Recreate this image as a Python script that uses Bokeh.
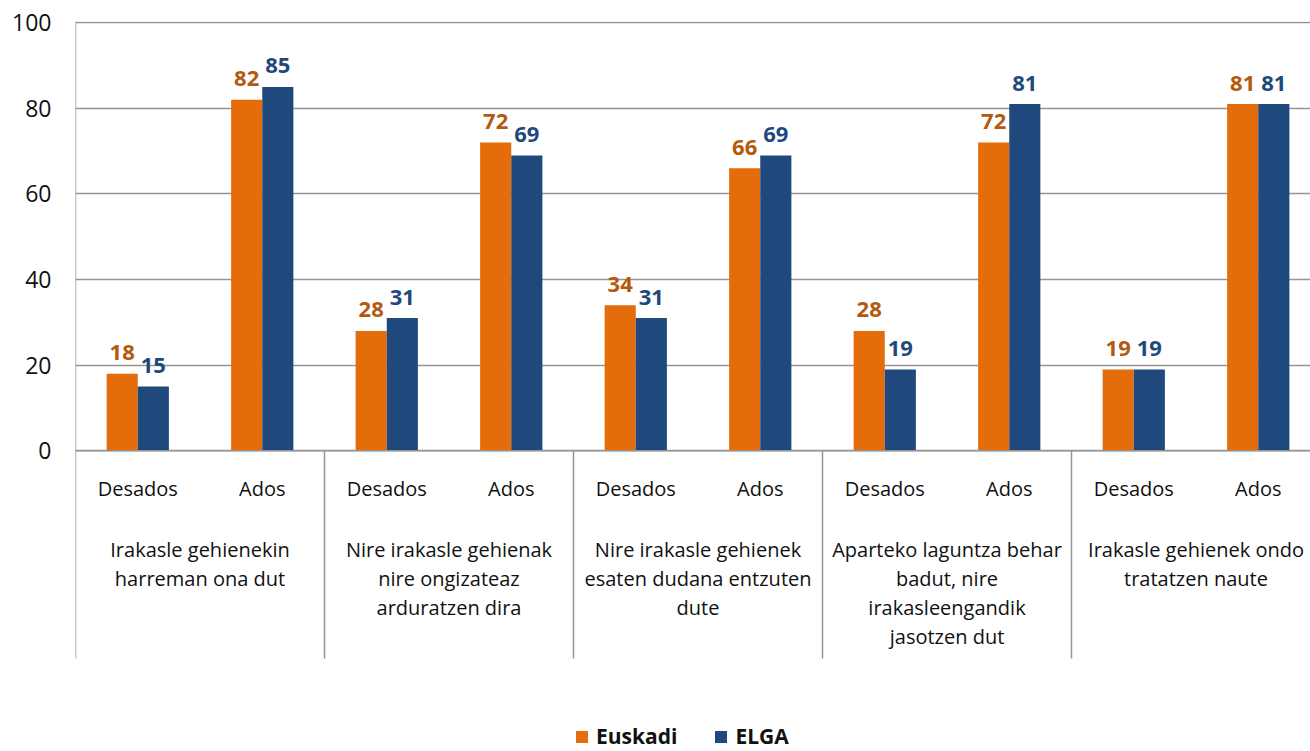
import numpy as np
from bokeh.plotting import figure
from bokeh.models import Range1d, FixedTicker, Legend, LegendItem
from bokeh.core.properties import value
from bokeh.embed import file_html
from bokeh.resources import INLINE

# ---- data ----
groups = [
    "Irakasle gehienekin\nharreman ona dut",
    "Nire irakasle gehienak\nnire ongizateaz\narduratzen dira",
    "Nire irakasle gehienek\nesaten dudana entzuten\ndute",
    "Aparteko laguntza behar\nbadut, nire\nirakasleengandik\njasotzen dut",
    "Irakasle gehienek ondo\ntratatzen naute",
]
subcats = ["Desados", "Ados"]
euskadi = [18, 82, 28, 72, 34, 66, 28, 72, 19, 81]
elga = [15, 85, 31, 69, 31, 69, 19, 81, 19, 81]
yticks = [0, 20, 40, 60, 80, 100]

FONT = "Open Sans"
ORANGE = "#E46C0A"
ORANGE_TXT = "#B35A0C"
BLUE = "#1F497D"
GRID = "#959595"

PX_PER_UNIT = 4.28
Y_END = 100.3
W, H = 1310, 751
TOP = 21
LEFT = 75
frame_h = H - TOP
Y_START = Y_END - frame_h / PX_PER_UNIT
ZERO_PX = TOP + Y_END * PX_PER_UNIT  # page y of value 0
SLOT_PX = 124.5
X_END = (W - LEFT) / SLOT_PX

n = len(euskadi)
xc = np.arange(n) + 0.5
bw = 0.25

p = figure(width=W, height=H, output_backend="svg", toolbar_location=None,
           x_range=Range1d(0, X_END), y_range=Range1d(Y_START, Y_END),
           min_border_left=LEFT, min_border_right=0, min_border_top=TOP, min_border_bottom=0)
p.outline_line_color = None
p.background_fill_color = "white"
p.xaxis.visible = False
p.xgrid.visible = False

p.yaxis.ticker = FixedTicker(ticks=yticks)
p.yaxis.axis_line_color = None
p.yaxis.major_tick_line_color = None
p.yaxis.minor_tick_line_color = None
p.yaxis.major_tick_out = 0
p.yaxis.major_tick_in = 0
p.yaxis.major_label_standoff = 24
p.yaxis.major_label_text_font = FONT
p.yaxis.major_label_text_font_size = "23px"
p.yaxis.major_label_text_color = "#111111"
p.ygrid.grid_line_color = GRID
p.ygrid.grid_line_width = 1.5

r1 = p.vbar(x=xc - bw / 2, top=euskadi, width=bw, bottom=0, fill_color=ORANGE, line_color=None)
r2 = p.vbar(x=xc + bw / 2, top=elga, width=bw, bottom=0, fill_color=BLUE, line_color=None)

# value labels
p.text(x=xc - bw / 2, y=euskadi, text=[str(v) for v in euskadi], text_align="center",
       text_baseline="alphabetic", y_offset=-21, text_font=value(FONT), text_font_style="bold",
       text_font_size="22px", text_color=ORANGE_TXT)
p.text(x=xc + bw / 2, y=elga, text=[str(v) for v in elga], text_align="center",
       text_baseline="alphabetic", y_offset=-21, text_font=value(FONT), text_font_style="bold",
       text_font_size="22px", text_color=BLUE)

# axis baseline
p.segment(x0=[0], y0=[0], x1=[X_END], y1=[0], line_color=GRID, line_width=1.5)

# separators
sep_bottom = -(658 - ZERO_PX) / PX_PER_UNIT
ng = len(groups)
sep_x = [2 * g for g in range(ng)]
sep_top = [Y_END if g == 0 else 0 for g in range(ng)]
p.segment(x0=sep_x, y0=sep_top, x1=sep_x, y1=[sep_bottom] * ng, line_color=GRID, line_width=1.5)

# sub category labels
sub_labels = [subcats[i % 2] for i in range(n)]
p.text(x=xc, y=[-(488 - ZERO_PX) / PX_PER_UNIT] * n, text=sub_labels, text_align="center",
       text_baseline="middle", text_font=value(FONT), text_font_size="20px", text_color="#111111")

# group labels (line by line)
gx, gy, gt = [], [], []
for g, lab in enumerate(groups):
    for k, line in enumerate(lab.split("\n")):
        gx.append(2 * g + 1)
        gy.append(-(549 + 29 * k - ZERO_PX) / PX_PER_UNIT)
        gt.append(line)
p.text(x=gx, y=gy, text=gt, text_align="center", text_baseline="middle",
       text_font=value(FONT), text_font_size="20px", text_color="#111111")

legend = Legend(items=[LegendItem(label="Euskadi", renderers=[r1]),
                       LegendItem(label="ELGA", renderers=[r2])],
                orientation="horizontal", location=(499, 1))
legend.label_text_font = FONT
legend.label_text_font_style = "bold"
legend.label_text_font_size = "21px"
legend.label_text_color = "#111111"
legend.glyph_width = 15
legend.glyph_height = 15
legend.label_standoff = 7
legend.spacing = 36
legend.padding = 0
legend.margin = 0
legend.border_line_color = None
legend.background_fill_alpha = 0
legend.label_height = 22
p.add_layout(legend)

open("out.html", "w").write(file_html(p, INLINE))
